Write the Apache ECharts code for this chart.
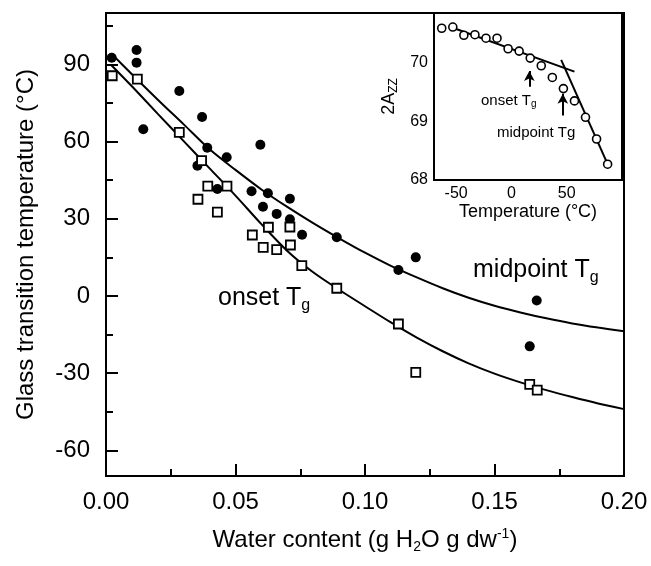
<!DOCTYPE html>
<html>
<head>
<meta charset="utf-8">
<script src="https://cdn.jsdelivr.net/npm/echarts@6/dist/echarts.min.js"></script>
<style>
  html, body { margin: 0; padding: 0; background: #fff; }
  #chart { width: 651px; height: 566px; }
</style>
</head>
<body>
<div id="chart"></div>
<script>
// main plot: glass transition vs water content
const midpointPts = [
  [0.0022, 92.6], [0.0118, 95.6], [0.0118, 90.7], [0.0144, 64.8], [0.0283, 79.7],
  [0.0371, 69.6], [0.0391, 57.6], [0.0353, 50.6], [0.0466, 53.9], [0.0430, 41.6],
  [0.0596, 58.8], [0.0562, 40.7], [0.0625, 39.9], [0.0606, 34.7], [0.0659, 31.9],
  [0.0710, 37.8], [0.0710, 29.8], [0.0757, 23.8], [0.0891, 22.8], [0.1129, 10.1],
  [0.1196, 15.0], [0.1663, -1.8], [0.1636, -19.6]
];
const onsetPts = [
  [0.0024, 85.6], [0.0121, 84.3], [0.0283, 63.6], [0.0369, 52.6], [0.0393, 42.7],
  [0.0467, 42.7], [0.0355, 37.6], [0.0430, 32.6], [0.0565, 23.7], [0.0627, 26.7],
  [0.0710, 26.8], [0.0607, 18.9], [0.0659, 18.0], [0.0712, 19.8], [0.0756, 11.8],
  [0.0891, 3.0], [0.1129, -10.9], [0.1196, -29.7], [0.1636, -34.4], [0.1665, -36.6]
];
const midpointFit = [
  [0.002, 94.3], [0.01, 86.2], [0.02, 76.3], [0.03, 66.7], [0.04, 57.0], [0.05, 49.0],
  [0.06, 41.4], [0.07, 34.6], [0.08, 28.3], [0.09, 22.4], [0.10, 16.8], [0.11, 11.7],
  [0.12, 7.2], [0.13, 3.0], [0.14, -0.7], [0.15, -3.8], [0.16, -6.4], [0.17, -8.7],
  [0.18, -10.7], [0.19, -12.3], [0.20, -13.7]
];
const onsetFit = [
  [0.002, 89.8], [0.01, 81.5], [0.02, 70.8], [0.03, 60.2], [0.04, 49.6], [0.05, 39.0],
  [0.06, 27.9], [0.07, 17.5], [0.08, 9.2], [0.09, 2.4], [0.10, -4.0], [0.11, -10.3],
  [0.12, -16.2], [0.13, -21.5], [0.14, -26.2], [0.15, -30.2], [0.16, -33.6],
  [0.17, -36.6], [0.18, -39.3], [0.19, -41.8], [0.20, -44.0]
];
const yMajor = [90, 60, 30, 0, -30, -60];
const yMinor = [105, 75, 45, 15, -15, -45];

// inset: 2Azz vs temperature
const insetPts = [
  [-63, 70.59], [-53, 70.61], [-43, 70.47], [-33, 70.48], [-23, 70.42], [-13, 70.42],
  [-3, 70.24], [7, 70.20], [17, 70.08], [27, 69.95], [37, 69.75], [47, 69.56],
  [57, 69.35], [67, 69.07], [77, 68.70], [87, 68.27]
];
const insetLine1 = [[-55, 70.61], [57, 69.85]];
const insetLine2 = [[45, 70.05], [87.5, 68.25]];
const onsetArrow = [[16.2, 69.59], [16.2, 69.86]];
const midArrow = [[46.5, 69.10], [46.5, 69.47]];
const insetXMajor = [-50, 0, 50];
const insetXMinor = [-25, 25, 75];
const insetYMajor = [68, 69, 70];
const insetYMinor = [68.5, 69.5, 70.5];

const FONT = 'Liberation Sans, Arial, sans-serif';
const black = '#000';

const chart = echarts.init(document.getElementById('chart'));

const option = {
  backgroundColor: '#fff',
  animation: false,
  textStyle: { fontFamily: FONT, color: black },
  grid: [
    { left: 106, right: 27, top: 13, bottom: 90, show: true, borderColor: black, borderWidth: 2, backgroundColor: 'transparent' },
    { left: 434, right: 29, top: 13, bottom: 386, show: true, borderColor: black, borderWidth: 2, backgroundColor: '#fff', z: 5 }
  ],
  xAxis: [
    {
      gridIndex: 0, type: 'value', min: 0, max: 0.2, interval: 0.05,
      axisLine: { onZero: false, lineStyle: { color: black, width: 2 } },
      axisTick: { inside: true, length: 12, lineStyle: { color: black, width: 2 } },
      minorTick: { show: true, splitNumber: 2, length: 7, lineStyle: { color: black, width: 2 } },
      splitLine: { show: false },
      axisLabel: { color: black, fontSize: 24, margin: 14, fontFamily: FONT, formatter: v => v.toFixed(2) },
      name: '{a|Water content (g H}{sub|2}{a|O g dw}{sup|-1}{a|)}',
      nameLocation: 'middle', nameGap: 50,
      nameTextStyle: {
        rich: {
          a: { fontSize: 24, fontFamily: FONT, color: black },
          sub: { fontSize: 14, fontFamily: FONT, color: black, padding: [14, 0, 0, 0] },
          sup: { fontSize: 14, fontFamily: FONT, color: black, padding: [0, 0, 12, 0] }
        }
      }
    },
    {
      gridIndex: 1, type: 'value', min: -70, max: 100,
      axisLine: { onZero: false, lineStyle: { color: black, width: 2 } },
      axisTick: { inside: true, length: 5, customValues: insetXMajor.concat(insetXMinor), lineStyle: { color: black, width: 2 } },
      splitLine: { show: false },
      axisLabel: { color: black, fontSize: 16, margin: 6, fontFamily: FONT, customValues: insetXMajor },
      name: 'Temperature (°C)', nameLocation: 'middle', nameGap: 20,
      nameTextStyle: { fontSize: 18, fontFamily: FONT, color: black, verticalAlign: 'top' }
    }
  ],
  yAxis: [
    {
      gridIndex: 0, type: 'value', min: -70, max: 110,
      axisLine: { onZero: false, lineStyle: { color: black, width: 2 } },
      axisTick: { inside: true, length: 12, customValues: yMajor, lineStyle: { color: black, width: 2 } },
      splitLine: { show: false },
      axisLabel: { color: black, fontSize: 24, margin: 16, fontFamily: FONT, customValues: yMajor },
      name: 'Glass transition temperature (°C)', nameLocation: 'middle', nameGap: 68, nameRotate: 90,
      nameTextStyle: { fontSize: 24, fontFamily: FONT, color: black }
    },
    {
      gridIndex: 0, type: 'value', min: -70, max: 110, position: 'left',
      axisLine: { show: false, onZero: false },
      axisTick: { inside: true, length: 7, customValues: yMinor, lineStyle: { color: black, width: 2 } },
      splitLine: { show: false },
      axisLabel: { show: false }
    },
    {
      gridIndex: 1, type: 'value', min: 68, max: 70.85,
      axisLine: { onZero: false, lineStyle: { color: black, width: 2 } },
      axisTick: { inside: true, length: 5, customValues: insetYMajor.concat(insetYMinor), lineStyle: { color: black, width: 2 } },
      splitLine: { show: false },
      axisLabel: { color: black, fontSize: 16, margin: 6, fontFamily: FONT, customValues: insetYMajor },
      name: '{a|2A}{sub|ZZ}', nameLocation: 'middle', nameGap: 34, nameRotate: 90,
      nameTextStyle: {
        rich: {
          a: { fontSize: 18, fontFamily: FONT, color: black },
          sub: { fontSize: 12, fontFamily: FONT, color: black, padding: [10, 0, 0, 0] }
        }
      }
    }
  ],
  series: [
    {
      type: 'line', xAxisIndex: 0, yAxisIndex: 0, data: midpointFit, smooth: 0.3,
      showSymbol: false, lineStyle: { color: black, width: 2 }, z: 2
    },
    {
      type: 'line', xAxisIndex: 0, yAxisIndex: 0, data: onsetFit, smooth: 0.3,
      showSymbol: false, lineStyle: { color: black, width: 2 }, z: 2
    },
    {
      type: 'scatter', xAxisIndex: 0, yAxisIndex: 0, data: midpointPts,
      symbol: 'circle', symbolSize: 10, itemStyle: { color: black, opacity: 1 }, z: 3
    },
    {
      type: 'scatter', xAxisIndex: 0, yAxisIndex: 0, data: onsetPts,
      symbol: 'rect', symbolSize: 9, itemStyle: { color: '#fff', borderColor: black, borderWidth: 1.8, opacity: 1 }, z: 4
    },
    {
      type: 'line', xAxisIndex: 1, yAxisIndex: 2, data: insetLine1,
      showSymbol: false, lineStyle: { color: black, width: 2 }, z: 6
    },
    {
      type: 'line', xAxisIndex: 1, yAxisIndex: 2, data: insetLine2,
      showSymbol: false, lineStyle: { color: black, width: 2 }, z: 6,
      markLine: {
        silent: true, symbol: ['none', 'arrow'], symbolSize: [8, 10],
        label: { show: false },
        lineStyle: { color: black, width: 2, type: 'solid' },
        data: [
          [{ coord: onsetArrow[0] }, { coord: onsetArrow[1] }],
          [{ coord: midArrow[0] }, { coord: midArrow[1] }]
        ]
      }
    },
    {
      type: 'scatter', xAxisIndex: 1, yAxisIndex: 2, data: insetPts,
      symbol: 'circle', symbolSize: 8, itemStyle: { color: '#fff', borderColor: black, borderWidth: 1.6, opacity: 1 }, z: 7
    }
  ],
  graphic: [
    {
      type: 'text', left: 218, top: 286, z: 10,
      style: {
        text: '{a|onset T}{sub|g}',
        rich: {
          a: { fontSize: 25, fontFamily: FONT, fill: black },
          sub: { fontSize: 16, fontFamily: FONT, fill: black, padding: [14, 0, 0, 0] }
        }
      }
    },
    {
      type: 'text', left: 473, top: 258, z: 10,
      style: {
        text: '{a|midpoint T}{sub|g}',
        rich: {
          a: { fontSize: 25, fontFamily: FONT, fill: black },
          sub: { fontSize: 16, fontFamily: FONT, fill: black, padding: [14, 0, 0, 0] }
        }
      }
    },
    {
      type: 'text', left: 481, top: 93, z: 10,
      style: {
        text: '{a|onset T}{sub|g}',
        rich: {
          a: { fontSize: 15, fontFamily: FONT, fill: black },
          sub: { fontSize: 10, fontFamily: FONT, fill: black, padding: [8, 0, 0, 0] }
        }
      }
    },
    {
      type: 'text', left: 497, top: 125, z: 10,
      style: { text: 'midpoint Tg', fontSize: 15, fontFamily: FONT, fill: black }
    }
  ]
};

chart.setOption(option);
</script>
</body>
</html>
